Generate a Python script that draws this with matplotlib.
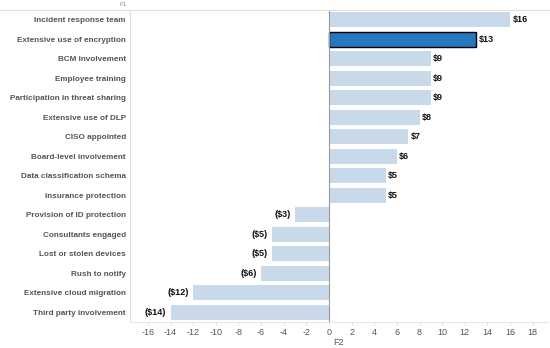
import matplotlib
matplotlib.use("Agg")
import matplotlib.pyplot as plt

factors = ["Incident response team", "Extensive use of encryption", "BCM involvement",
           "Employee training", "Participation in threat sharing", "Extensive use of DLP",
           "CISO appointed", "Board-level involvement", "Data classification schema",
           "Insurance protection", "Provision of ID protection", "Consultants engaged",
           "Lost or stolen devices", "Rush to notify", "Extensive cloud migration",
           "Third party involvement"]
impact = [16, 13, 9, 9, 9, 8, 7, 6, 5, 5, -3, -5, -5, -6, -12, -14]
highlight = "Extensive use of encryption"
xticks = list(range(-16, 19, 2))

plt.rcParams["font.family"] = ["Liberation Sans", "DejaVu Sans"]

fig = plt.figure(figsize=(5.5, 3.48), dpi=100)
ax = fig.add_axes([130 / 550, 1 - 322 / 348, 418 / 550, 312 / 348])

light = "#c8dae9"
dark = "#2378bf"
ypos = list(range(len(factors)))
for y, name, v in zip(ypos, factors, impact):
    if name == highlight:
        ax.barh(y, v, height=0.78, color=dark, edgecolor="black", linewidth=1.0, zorder=3)
    else:
        ax.barh(y, v, height=0.78, color=light, edgecolor="none", zorder=2)
    lab = f"${v}" if v >= 0 else f"(${-v})"
    if v >= 0:
        ax.text(v + 0.2, y, lab, va="center", ha="left", fontsize=6.5, fontweight="bold", color="#111111")
    else:
        ax.text(v - 0.4, y, lab, va="center", ha="right", fontsize=6.5, fontweight="bold", color="#111111")

ax.set_xlim(-17.58, 19.35)
ax.set_ylim(len(factors) - 0.5, -0.5)
ax.axvline(0, color="#999999", linewidth=0.8, zorder=4)

ax.set_yticks(ypos)
ax.set_yticklabels(factors, fontsize=5.9, fontweight="bold", color="#555555")
ax.set_xticks(xticks)
ax.set_xticklabels([str(t) for t in xticks], fontsize=6.5, color="#555555")
ax.tick_params(axis="y", length=0, pad=3)
ax.tick_params(axis="x", length=2, color="#dddddd", pad=2)

for side in ["top", "right"]:
    ax.spines[side].set_visible(False)
ax.spines["left"].set_color("#e0e0e0")
ax.spines["bottom"].set_color("#e6e6e6")
ax.spines["left"].set_linewidth(0.8)
ax.spines["bottom"].set_linewidth(0.8)

ax.set_xlabel("F2", fontsize=6.5, color="#555555", labelpad=1)

# header line and field label across the top
fig.add_artist(plt.Line2D([0, 1], [1 - 10 / 348, 1 - 10 / 348], color="#e0e0e0", linewidth=0.8))
fig.text(127 / 550, 1 - 5 / 348, "F1", fontsize=4.5, color="#888888", ha="right", va="center")

fig.savefig("out.png", dpi=100)
